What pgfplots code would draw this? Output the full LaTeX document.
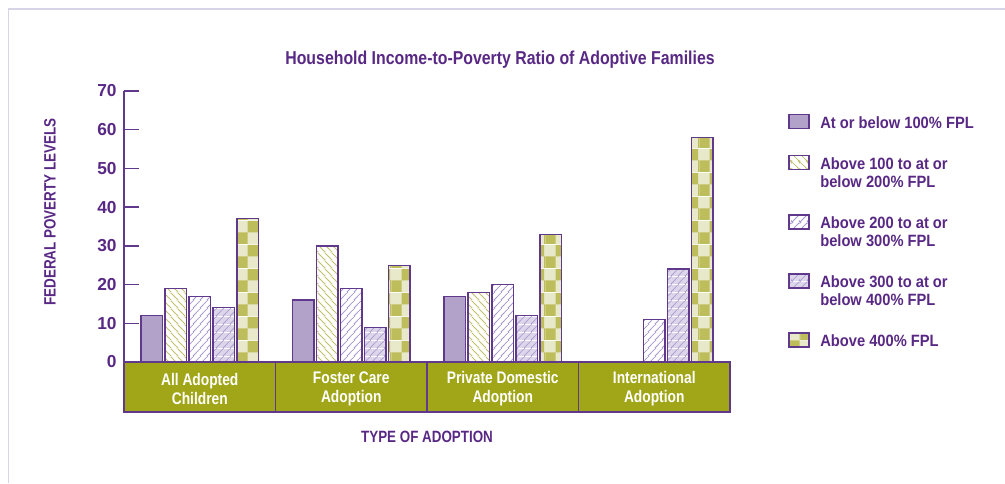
\documentclass[border=0pt]{standalone}
\usepackage{fontspec}
\setmainfont{Liberation Sans}[FakeStretch=0.82]
\newfontfamily\titlefont{Liberation Sans}[FakeStretch=0.85]
\newfontfamily\legfont{Liberation Sans}[FakeStretch=0.9]
\newfontfamily\tickfont{Liberation Sans}
\usepackage{pgfplots}
\pgfplotsset{compat=1.18}
\usetikzlibrary{patterns,patterns.meta}

\definecolor{txtpurple}{RGB}{88,40,132}
\definecolor{barpurple}{RGB}{96,56,140}
\definecolor{lowfill}{RGB}{178,162,202}
\definecolor{olivehatch}{RGB}{192,192,112}
\definecolor{lavhatch}{RGB}{168,152,208}
\definecolor{lavfill}{RGB}{221,213,234}
\definecolor{lavline}{RGB}{176,162,210}
\definecolor{checkolive}{RGB}{189,189,92}
\definecolor{checkcream}{RGB}{232,232,202}
\definecolor{bandolive}{RGB}{160,166,23}
\definecolor{framecol}{RGB}{216,212,232}

% hatch tiles, 45 degree lines, s = 5.6pt
\pgfdeclarepattern{
  name=hatcholive, type=colored,
  bottom left={\pgfpoint{0pt}{0pt}}, top right={\pgfpoint{5.6pt}{5.6pt}},
  tile size={\pgfpoint{5.6pt}{5.6pt}},
  code={
    \pgfsetfillcolor{white}
    \pgfpathrectangle{\pgfpointorigin}{\pgfpoint{5.6pt}{5.6pt}}\pgfusepath{fill}
    \pgfsetstrokecolor{olivehatch}\pgfsetlinewidth{0.6pt}
    \pgfpathmoveto{\pgfpoint{-1pt}{6.6pt}}\pgfpathlineto{\pgfpoint{6.6pt}{-1pt}}
    \pgfpathmoveto{\pgfpoint{-1pt}{1pt}}\pgfpathlineto{\pgfpoint{1pt}{-1pt}}
    \pgfpathmoveto{\pgfpoint{4.6pt}{6.6pt}}\pgfpathlineto{\pgfpoint{6.6pt}{4.6pt}}
    \pgfusepath{stroke}
  }
}
\pgfdeclarepattern{
  name=hatchlav, type=colored,
  bottom left={\pgfpoint{0pt}{0pt}}, top right={\pgfpoint{5.6pt}{5.6pt}},
  tile size={\pgfpoint{5.6pt}{5.6pt}},
  code={
    \pgfsetfillcolor{white}
    \pgfpathrectangle{\pgfpointorigin}{\pgfpoint{5.6pt}{5.6pt}}\pgfusepath{fill}
    \pgfsetstrokecolor{lavhatch}\pgfsetlinewidth{0.6pt}
    \pgfpathmoveto{\pgfpoint{-1pt}{-1pt}}\pgfpathlineto{\pgfpoint{6.6pt}{6.6pt}}
    \pgfpathmoveto{\pgfpoint{-1pt}{4.6pt}}\pgfpathlineto{\pgfpoint{1pt}{6.6pt}}
    \pgfpathmoveto{\pgfpoint{4.6pt}{-1pt}}\pgfpathlineto{\pgfpoint{6.6pt}{1pt}}
    \pgfusepath{stroke}
  }
}
\pgfdeclarepattern{
  name=hatchlavfill, type=colored,
  bottom left={\pgfpoint{0pt}{0pt}}, top right={\pgfpoint{5.6pt}{5.6pt}},
  tile size={\pgfpoint{5.6pt}{5.6pt}},
  code={
    \pgfsetfillcolor{lavfill}
    \pgfpathrectangle{\pgfpointorigin}{\pgfpoint{5.6pt}{5.6pt}}\pgfusepath{fill}
    \pgfsetstrokecolor{lavline}\pgfsetlinewidth{0.6pt}
    \pgfpathmoveto{\pgfpoint{-1pt}{-1pt}}\pgfpathlineto{\pgfpoint{6.6pt}{6.6pt}}
    \pgfpathmoveto{\pgfpoint{-1pt}{4.6pt}}\pgfpathlineto{\pgfpoint{1pt}{6.6pt}}
    \pgfpathmoveto{\pgfpoint{4.6pt}{-1pt}}\pgfpathlineto{\pgfpoint{6.6pt}{1pt}}
    \pgfusepath{stroke}
  }
}
% checkerboard tile: two columns per bar, phase set so columns meet the bar edges
\pgfdeclarepattern{
  name=fplchecker, type=colored,
  bottom left={\pgfpoint{0pt}{0pt}}, top right={\pgfpoint{16.232pt}{18pt}},
  tile size={\pgfpoint{16.232pt}{18pt}},
  code={
    \pgfsetfillcolor{checkcream}
    \pgfpathrectangle{\pgfpointorigin}{\pgfpoint{16.232pt}{18pt}}
    \pgfusepath{fill}
    \pgfsetfillcolor{checkolive}
    \pgfpathrectangle{\pgfpoint{15.3765pt}{0pt}}{\pgfpoint{0.8555pt}{9pt}}
    \pgfpathrectangle{\pgfpoint{0pt}{0pt}}{\pgfpoint{7.2605pt}{9pt}}
    \pgfpathrectangle{\pgfpoint{7.2605pt}{9pt}}{\pgfpoint{8.116pt}{9pt}}
    \pgfusepath{fill}
  }
}

\begin{document}
\begin{tikzpicture}
\path[use as bounding box] (0pt,0pt) rectangle (753.75pt,-362.25pt);
\draw[framecol, line width=1.1pt] (6.4pt,-362.25pt) -- (6.4pt,-6.75pt) -- (753.75pt,-6.75pt);

\begin{axis}[
    at={(93pt,-271.5pt)}, anchor=south west,
    scale only axis,
    width=454.5pt, height=203.25pt,
    xmin=-0.5, xmax=3.5,
    ymin=0, ymax=70,
    clip=false,
    axis on top,
    ybar=1.768pt, bar width=16.232pt,
    axis lines*=left,
    x axis line style={draw=none},
    y axis line style={barpurple, line width=1.1pt},
    xtick={0,1,2,3},
    xticklabels={{All Adopted\\Children},{Foster Care\\Adoption},{Private Domestic\\Adoption},{International\\Adoption}},
    xtick style={draw=none},
    xticklabel style={anchor=center, yshift=-20.2pt, align=center, text=white,
        font=\bfseries\fontsize{12.6}{14.2}\selectfont},
    ytick={0,10,...,70},
    ytick style={barpurple, line width=1.1pt},
    tick align=inside,
    major tick length=11.25pt,
    /pgf/number format/assume math mode=true,
    yticklabel style={text=txtpurple, font=\tickfont\bfseries\fontsize{13}{15}\selectfont, xshift=-2pt},
    legend style={at={(1.0957,0.919)}, anchor=north west, draw=none, fill=none,
        inner sep=0pt, row sep=16.2pt, column sep=6pt, text=txtpurple,
        font=\legfont\bfseries\fontsize{12.25}{13.5}\selectfont,
        nodes={align=left, inner sep=2pt}, cells={anchor=north west}},
    every axis plot post/.append style={
        legend image code/.code={\draw[##1] (0pt,-1.15pt) rectangle (15pt,-11.65pt);}},
]
\addplot[fill=lowfill, draw=barpurple, line width=1pt]
    coordinates {(0,12) (1,16) (2,17)};
\addplot[pattern=hatcholive, draw=barpurple, line width=1pt]
    coordinates {(0,19) (1,30) (2,18)};
\addplot[pattern=hatchlav, draw=barpurple, line width=1pt]
    coordinates {(0,17) (1,19) (2,20) (3,11)};
\addplot[pattern=hatchlavfill, draw=barpurple, line width=1pt]
    coordinates {(0,14) (1,9) (2,12) (3,24)};
\addplot[pattern=fplchecker, draw=barpurple, line width=1pt]
    coordinates {(0,37) (1,25) (2,33) (3,58)};
\legend{At or below 100\% FPL,
    {Above 100 to at or\\below 200\% FPL},
    {Above 200 to at or\\below 300\% FPL},
    {Above 300 to at or\\below 400\% FPL},
    Above 400\% FPL}

% category band under the bars
\fill[bandolive, draw=barpurple, line width=1pt] (axis cs:-0.5,0) rectangle (axis cs:3.5,-12.9);
\draw[barpurple, line width=1pt] (axis cs:0.5,0) -- (axis cs:0.5,-12.9)
    (axis cs:1.5,0) -- (axis cs:1.5,-12.9)
    (axis cs:2.5,0) -- (axis cs:2.5,-12.9);
\end{axis}

\node[text=txtpurple, font=\titlefont\bfseries\fontsize{14}{16}\selectfont] at (375pt,-45pt)
    {Household Income-to-Poverty Ratio of Adoptive Families};
\node[text=txtpurple, rotate=90, font=\bfseries\fontsize{12.3}{14}\selectfont] at (37.5pt,-159pt)
    {FEDERAL POVERTY LEVELS};
\node[text=txtpurple, font=\bfseries\fontsize{12.25}{14}\selectfont] at (320.25pt,-327.75pt)
    {TYPE OF ADOPTION};
\end{tikzpicture}
\end{document}
